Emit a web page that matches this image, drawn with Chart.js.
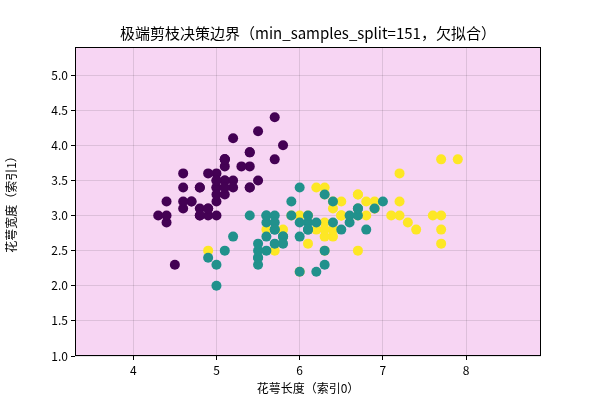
<!DOCTYPE html><html><head><meta charset="utf-8"><script src="https://cdn.jsdelivr.net/npm/chart.js@4"></script>
<style>body{margin:0}#w{width:600px;height:400px}</style></head><body><div id="w"><canvas id="c"></canvas></div><script>
const titleText='极端剪枝决策边界（min_samples_split=151，欠拟合）';
const xLabel='花萼长度（索引0）', yLabel='花萼宽度（索引1）';
const setosa=[[5.1,3.5],[4.9,3.0],[4.7,3.2],[4.6,3.1],[5.0,3.6],[5.4,3.9],[4.6,3.4],[5.0,3.4],[4.4,2.9],[4.9,3.1],[5.4,3.7],[4.8,3.4],[4.8,3.0],[4.3,3.0],[5.8,4.0],[5.7,4.4],[5.4,3.9],[5.1,3.5],[5.7,3.8],[5.1,3.8],[5.4,3.4],[5.1,3.7],[4.6,3.6],[5.1,3.3],[4.8,3.4],[5.0,3.0],[5.0,3.4],[5.2,3.5],[5.2,3.4],[4.7,3.2],[4.8,3.1],[5.4,3.4],[5.2,4.1],[5.5,4.2],[4.9,3.1],[5.0,3.2],[5.5,3.5],[4.9,3.6],[4.4,3.0],[5.1,3.4],[5.0,3.5],[4.5,2.3],[4.4,3.2],[5.0,3.5],[5.1,3.8],[4.8,3.0],[5.1,3.8],[4.6,3.2],[5.3,3.7],[5.0,3.3]];
const versicolor=[[7.0,3.2],[6.4,3.2],[6.9,3.1],[5.5,2.3],[6.5,2.8],[5.7,2.8],[6.3,3.3],[4.9,2.4],[6.6,2.9],[5.2,2.7],[5.0,2.0],[5.9,3.0],[6.0,2.2],[6.1,2.9],[5.6,2.9],[6.7,3.1],[5.6,3.0],[5.8,2.7],[6.2,2.2],[5.6,2.5],[5.9,3.2],[6.1,2.8],[6.3,2.5],[6.1,2.8],[6.4,2.9],[6.6,3.0],[6.8,2.8],[6.7,3.0],[6.0,2.9],[5.7,2.6],[5.5,2.4],[5.5,2.4],[5.8,2.7],[6.0,2.7],[5.4,3.0],[6.0,3.4],[6.7,3.1],[6.3,2.3],[5.6,3.0],[5.5,2.5],[5.5,2.6],[6.1,3.0],[5.8,2.6],[5.0,2.3],[5.6,2.7],[5.7,3.0],[5.7,2.9],[6.2,2.9],[5.1,2.5],[5.7,2.8]];
const virginica=[[6.3,3.3],[5.8,2.7],[7.1,3.0],[6.3,2.9],[6.5,3.0],[7.6,3.0],[4.9,2.5],[7.3,2.9],[6.7,2.5],[7.2,3.6],[6.5,3.2],[6.4,2.7],[6.8,3.0],[5.7,2.5],[5.8,2.8],[6.4,3.2],[6.5,3.0],[7.7,3.8],[7.7,2.6],[6.0,2.2],[6.9,3.2],[5.6,2.8],[7.7,2.8],[6.3,2.7],[6.7,3.3],[7.2,3.2],[6.2,2.8],[6.1,3.0],[6.4,2.8],[7.2,3.0],[7.4,2.8],[7.9,3.8],[6.4,2.8],[6.3,2.8],[6.1,2.6],[7.7,3.0],[6.3,3.4],[6.4,3.1],[6.0,3.0],[6.9,3.1],[6.7,3.1],[6.9,3.1],[5.8,2.7],[6.8,3.2],[6.7,3.3],[6.7,3.0],[6.3,2.5],[6.5,3.0],[6.2,3.4],[5.9,3.0]];
const F='"Noto Sans CJK SC", sans-serif';
const toPts=a=>a.map(p=>({x:p[0],y:p[1]}));
const ds=(d,c)=>({data:toPts(d),backgroundColor:c,borderColor:c,pointRadius:5,pointHoverRadius:5,borderWidth:0});
const bg={id:'bg',beforeDraw(ch){const {ctx,chartArea:a}=ch;ctx.save();ctx.fillStyle='#f7d5f3';ctx.fillRect(a.left,a.top,a.right-a.left,a.bottom-a.top);
ctx.fillStyle='#000';ctx.font='15px '+F;ctx.textAlign='center';ctx.textBaseline='middle';ctx.fillText(titleText,(a.left+a.right)/2,33);ctx.restore();},
afterDraw(ch){const {ctx,chartArea:a}=ch;ctx.save();ctx.strokeStyle='#000';ctx.lineWidth=1;ctx.strokeRect(a.left+.5,a.top+.5,a.right-a.left-1,a.bottom-a.top-1);ctx.restore();}};
new Chart(document.getElementById('c'),{type:'scatter',data:{datasets:[ds(setosa,'#440154'),ds(versicolor,'#21918c'),ds(virginica,'#fde725')]},
options:{responsive:true,maintainAspectRatio:false,animation:false,layout:{padding:{top:47,right:59,left:0,bottom:0}},
plugins:{legend:{display:false},tooltip:{enabled:false}},
scales:{x:{min:3.3,max:8.9,afterFit(s){s.height=44},afterBuildTicks(s){s.ticks=[4,5,6,7,8].map(v=>({value:v}))},
ticks:{color:'#000',font:{family:F,size:12},callback:v=>String(v)},grid:{color:'rgba(0,0,0,0.1)',tickColor:'#000',tickLength:4},border:{display:false},
title:{display:true,text:xLabel,color:'#000',font:{family:F,size:12},padding:{top:0}}},
y:{min:1.0,max:5.4,afterFit(s){s.width=75},afterBuildTicks(s){s.ticks=[1,1.5,2,2.5,3,3.5,4,4.5,5].map(v=>({value:v}))},
ticks:{color:'#000',font:{family:F,size:12},callback:v=>v.toFixed(1)},grid:{color:'rgba(0,0,0,0.1)',tickColor:'#000',tickLength:4},border:{display:false},
title:{display:true,text:yLabel,color:'#000',font:{family:F,size:12}}}}},plugins:[bg]});
</script></body></html>
